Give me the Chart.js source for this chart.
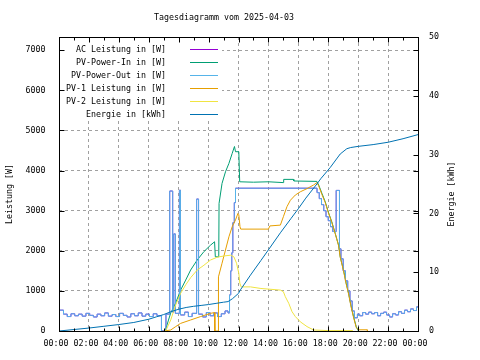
<!DOCTYPE html>
<html>
<head>
<meta charset="utf-8">
<script src="https://cdn.jsdelivr.net/npm/chart.js@4.4.1/dist/chart.umd.min.js"></script>
<style>
  html, body { margin: 0; padding: 0; background: #fff; }
  #wrap { position: relative; width: 480px; height: 360px; }
  #legend { position: absolute; left: 0; top: 0; width: 480px; height: 0; }
  .lrow { position: absolute; width: 166px; left: 0; height: 13px; line-height: 13px; text-align: right;
          font-family: 'DejaVu Sans Mono', monospace; font-size: 8.3px; color: #000; white-space: pre; }
  .lline { position: absolute; left: 190px; width: 28px; height: 1px; }
</style>
</head>
<body>
<div id="wrap">
  <canvas id="c" width="480" height="360"></canvas>
  <div id="legend"></div>
</div>
<script>
// ---- tick labels ----
const xTickHours = [0, 2, 4, 6, 8, 10, 12, 14, 16, 18, 20, 22, 24];
const xTickLabels = ['00:00', '02:00', '04:00', '06:00', '08:00', '10:00', '12:00', '14:00', '16:00', '18:00', '20:00', '22:00', '00:00'];
const leftTicks = [0, 1000, 2000, 3000, 4000, 5000, 6000, 7000];
const rightTicks = [0, 10, 20, 30, 40, 50];

const chartTitle = 'Tagesdiagramm vom 2025-04-03';
const leftTitle = 'Leistung [W]';
const rightTitle = 'Energie [kWh]';
const seriesLabels = ['AC Leistung in [W]', 'PV-Power-In in [W]', 'PV-Power-Out in [W]', 'PV-1 Leistung in [W]', 'PV-2 Leistung in [W]', 'Energie in [kWh]'];
const seriesColors = ['#9400d3', '#009e73', '#56b4e9', '#e69f00', '#f0e442', '#0072b2'];

// ---- series (hours, values) ----
const pvOutT = [0, 0.3, 0.55, 0.8, 1.05, 1.3, 1.55, 1.8, 2.05, 2.3, 2.55, 2.8, 3.05, 3.3, 3.55, 3.8, 4.05, 4.3, 4.55, 4.8, 5.05, 5.3, 5.55, 5.8, 6.05, 6.3, 6.55,
  6.85, 7.15, 7.4, 7.6, 7.67, 7.78, 8.05, 8.12, 8.4, 8.65, 8.9, 9.2, 9.33, 9.6, 9.85, 10.1, 10.35, 10.6, 10.85, 11.1,
  11.3, 11.4, 11.48, 11.55, 11.62, 11.72, 11.8,
  17.25, 17.4, 17.55, 17.7, 17.85, 18.0, 18.15, 18.3, 18.53, 18.75, 18.85, 19.0, 19.15, 19.3, 19.45, 19.6, 19.75,
  19.95, 20.1, 20.3, 20.5, 20.7, 20.9, 21.1, 21.3, 21.5, 21.7, 21.9, 22.1, 22.3, 22.5, 22.7, 22.9, 23.1, 23.3, 23.5, 23.7, 23.9, 24];
const pvOutW = [520, 420, 360, 430, 380, 420, 370, 440, 390, 350, 420, 380, 450, 370, 410, 360, 440, 390, 350, 430, 380, 450, 370, 420, 360, 430, 380,
  0, 420, 3490, 470, 2420, 440, 3510, 400, 470, 360, 440, 3290, 420, 350, 460, 380, 450, 360, 430, 500,
  450, 900, 1500, 1950, 2700, 3200, 3560,
  3450, 3300, 3150, 3000, 2850, 2750, 2600, 2480, 3505, 2050, 1800, 1500, 1250, 1000, 750, 500, 330,
  420, 380, 460, 420, 470, 430, 460, 380, 440, 470, 400, 350, 430, 400, 480, 440, 520, 480, 550, 510, 600, 600];

const acT = pvOutT;
const acW = pvOutW;

const pvInT = [7.1, 7.3, 7.47, 7.8, 8.13, 8.47, 8.8, 9.24, 9.69, 10.13, 10.4, 10.45, 10.68, 10.7, 10.9, 11.13, 11.36, 11.58, 11.73, 11.8, 12.02, 12.08,
  13.0, 14.0, 15.0, 15.02, 15.67, 15.7, 17.24, 17.36, 17.58, 17.8, 18.0, 18.24, 18.47, 18.69, 18.8, 19.02, 19.2, 19.36, 19.51, 19.69, 19.87, 20.02];
const pvInW = [0, 250, 450, 700, 1020, 1270, 1520, 1770, 1980, 2140, 2225, 1850, 1850, 3180, 3680, 3970, 4180, 4430, 4600, 4470, 4470, 3720,
  3710, 3720, 3700, 3780, 3780, 3740, 3730, 3640, 3430, 3220, 2970, 2720, 2430, 2140, 1850, 1520, 1190, 940, 650, 360, 110, 0];

const pv1T = [7.0, 7.47, 7.8, 8.13, 8.8, 9.47, 10.13, 10.4, 10.42, 10.64, 10.66, 10.9, 11.13, 11.36, 11.58, 11.8, 11.96, 12.02, 12.1, 12.15,
  14.0, 14.1, 14.8, 15.0, 15.24, 15.47, 15.8, 16.13, 16.58, 17.02, 17.24,
  17.36, 17.58, 17.8, 18.0, 18.24, 18.47, 18.69, 18.8, 19.02, 19.2, 19.36, 19.51, 19.69, 19.87, 20.0, 20.6, 20.62];
const pv1W = [0, 25, 110, 190, 275, 360, 440, 460, 0, 0, 1350, 1690, 2020, 2350, 2600, 2770, 2930, 2900, 2600, 2540,
  2540, 2620, 2640, 2850, 3100, 3260, 3390, 3470, 3550, 3640, 3700,
  3620, 3400, 3200, 2960, 2700, 2420, 2130, 1840, 1500, 1170, 920, 630, 340, 90, 30, 30, 0];

const pv2T = [7.13, 7.47, 7.8, 8.13, 8.47, 8.8, 9.24, 9.69, 10.13, 10.58, 11.02, 11.47, 11.69, 11.87, 12.02, 12.09, 12.18, 12.8, 13.5, 14.8,
  15.0, 15.13, 15.36, 15.58, 15.8, 16.13, 16.58, 17.02, 18.0, 19.6, 19.62];
const pv2W = [0, 275, 650, 940, 1150, 1330, 1520, 1640, 1770, 1840, 1870, 1890, 1850, 1690, 1440, 1190, 1100, 1100, 1060, 1020,
  980, 855, 690, 480, 360, 230, 110, 25, 10, 10, 0];

const energyT = [0, 1, 2, 3, 4, 5, 6, 6.5, 7, 7.5, 8, 8.5, 9, 9.5, 10, 10.5, 11, 11.3, 11.6, 12, 12.13, 12.8, 13.5, 14, 14.8, 15.5, 16, 16.5,
  17.24, 17.5, 18.13, 18.8, 19.24, 19.5, 20, 21, 22, 23, 24];
const energyKWh = [0, 0.25, 0.5, 0.8, 1.1, 1.45, 2.0, 2.4, 2.8, 3.3, 3.7, 4.0, 4.2, 4.35, 4.5, 4.7, 4.9, 5.0, 5.5, 6.4, 7.0, 9.5, 12.0, 13.8, 16.7, 19.1, 20.8, 22.6,
  25.0, 25.9, 27.8, 30.1, 31.0, 31.2, 31.4, 31.7, 32.1, 32.7, 33.4];

// ---- build ----
const FONT = "'DejaVu Sans Mono', monospace";
const FS = 8.3;
const pts = (t, v) => t.map((x, i) => ({ x: x, y: v[i] }));

const seriesData = [pts(acT, acW), pts(pvInT, pvInW), pts(pvOutT, pvOutW), pts(pv1T, pv1W), pts(pv2T, pv2W), pts(energyT, energyKWh)];
const stepped = [true, false, true, false, false, false];
const axisIds = ['y', 'y', 'y', 'y', 'y', 'y1'];

const datasets = seriesLabels.map((lab, i) => ({
  label: lab,
  data: seriesData[i],
  borderColor: seriesColors[i],
  backgroundColor: seriesColors[i],
  borderWidth: 1,
  pointRadius: 0,
  fill: false,
  tension: 0,
  stepped: stepped[i],
  yAxisID: axisIds[i],
  order: seriesLabels.length - i
}));

const LEGEND_BOX = { x0: 59, y0: 37, x1: 222, y1: 119 };

const decorPlugin = {
  id: 'decor',
  beforeDatasetsDraw(chart) {
    const ctx = chart.ctx;
    ctx.save();
    ctx.fillStyle = '#fff';
    ctx.fillRect(LEGEND_BOX.x0, LEGEND_BOX.y0, LEGEND_BOX.x1 - LEGEND_BOX.x0, LEGEND_BOX.y1 - LEGEND_BOX.y0);
    ctx.restore();
  },
  afterDatasetsDraw(chart) {
    const { ctx, chartArea: a, scales } = chart;
    const L = Math.round(a.left) + 0.5, R = Math.round(a.right) + 0.5;
    const T = Math.round(a.top) + 0.5, B = Math.round(a.bottom) + 0.5;
    ctx.save();
    ctx.strokeStyle = '#000';
    ctx.lineWidth = 1;
    ctx.setLineDash([]);
    ctx.beginPath();
    // ticks on x (inward, top and bottom)
    for (let h = 1; h < 24; h++) {
      const px = Math.round(scales.x.getPixelForValue(h)) + 0.5;
      const len = (h % 2 === 0) ? 5 : 3;
      ctx.moveTo(px, B); ctx.lineTo(px, B - len);
      ctx.moveTo(px, T); ctx.lineTo(px, T + len);
    }
    // ticks on y (left and mirrored right)
    leftTicks.forEach(v => {
      if (v === 0) return;
      const py = Math.round(scales.y.getPixelForValue(v)) + 0.5;
      ctx.moveTo(L, py); ctx.lineTo(L + 5, py);
      ctx.moveTo(R, py); ctx.lineTo(R - 5, py);
    });
    rightTicks.forEach(v => {
      if (v === 0 || v === 50) return;
      const py = Math.round(scales.y1.getPixelForValue(v)) + 0.5;
      ctx.moveTo(R, py); ctx.lineTo(R - 5, py);
    });
    ctx.stroke();
    ctx.strokeRect(L, T, R - L, B - T);
    ctx.restore();
  },
  afterDraw(chart) {
    const ctx = chart.ctx;
    ctx.save();
    ctx.fillStyle = '#000';
    ctx.font = FS + 'px ' + FONT;
    ctx.textAlign = 'center';
    ctx.textBaseline = 'middle';
    const draw = (txt, x, y) => {
      ctx.save(); ctx.translate(x, y); ctx.rotate(-Math.PI / 2); ctx.fillText(txt, 0, 0); ctx.restore();
    };
    draw(chart.options.scales.y.title.text, 10, 194);
    draw(chart.options.scales.y1.title.text, 451.5, 194);
    ctx.restore();
  }
};

Chart.defaults.font.family = FONT;
Chart.defaults.font.size = FS;
Chart.defaults.color = '#000';

const chart = new Chart(document.getElementById('c'), {
  type: 'line',
  data: { datasets: datasets },
  plugins: [decorPlugin],
  options: {
    responsive: false,
    devicePixelRatio: 1,
    animation: false,
    layout: { padding: { left: 0, right: 32, top: 0, bottom: 0 } },
    plugins: {
      legend: { display: false },
      tooltip: { enabled: false },
      title: {
        display: true,
        text: chartTitle,
        color: '#000',
        font: { family: FONT, size: FS, weight: 'normal' },
        padding: { top: 12.5, bottom: 14.54 }
      }
    },
    scales: {
      x: {
        type: 'linear', position: 'bottom', min: 0, max: 24,
        afterBuildTicks: s => { s.ticks = xTickHours.map(v => ({ value: v })); },
        afterFit: s => { s.height = 29; },
        ticks: { autoSkip: false, maxRotation: 0, padding: 8, labelOffset: -3, color: '#000',
                 callback: (v, i) => xTickLabels[i] },
        grid: { color: '#a0a0a0', lineWidth: 1, drawTicks: false },
        border: { display: false, dash: [3, 3] }
      },
      y: {
        type: 'linear', position: 'left', min: 0, max: 7330,
        afterBuildTicks: s => { s.ticks = leftTicks.map(v => ({ value: v })); },
        afterFit: s => { s.width = 59; },
        ticks: { padding: 13.5, color: '#000', callback: v => String(v) },
        grid: { color: '#a0a0a0', lineWidth: 1, drawTicks: false },
        border: { display: false, dash: [3, 3] },
        title: { display: false, text: leftTitle }
      },
      y1: {
        type: 'linear', position: 'right', min: 0, max: 50,
        afterBuildTicks: s => { s.ticks = rightTicks.map(v => ({ value: v })); },
        afterFit: s => { s.width = 30; },
        ticks: { padding: 11, color: '#000', callback: v => String(v) },
        grid: { drawOnChartArea: false, drawTicks: false },
        border: { display: false },
        title: { display: false, text: rightTitle }
      }
    }
  }
});

// ---- legend (right-aligned text, line sample to the right) ----
const legendEl = document.getElementById('legend');
chart.data.datasets.forEach((ds, i) => {
  const lineY = 49 + 13 * i;
  const row = document.createElement('div');
  row.className = 'lrow';
  row.style.top = (lineY - 6) + 'px';
  row.textContent = ds.label;
  const ln = document.createElement('div');
  ln.className = 'lline';
  ln.style.top = lineY + 'px';
  ln.style.background = ds.borderColor;
  legendEl.appendChild(row);
  legendEl.appendChild(ln);
});
</script>
</body>
</html>
